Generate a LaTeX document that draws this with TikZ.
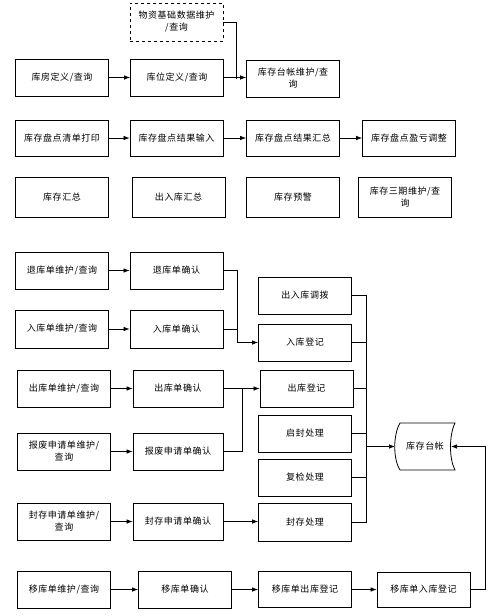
\documentclass[tikz,border=0pt]{standalone}
\usepackage{fontspec}
\newfontfamily\cjk{Noto Sans CJK SC}[LetterSpace=6]
\usetikzlibrary{arrows.meta}
\tikzset{
  box/.style={draw, line width=0.8pt, minimum width=93pt, minimum height=37pt,
    align=center, inner sep=1pt, font=\cjk\fontsize{9}{12}\selectfont},
  conn/.style={line width=0.7pt},
  arr/.style={conn, -{Latex[length=6pt,width=4.5pt]}}
}
\begin{document}
\begin{tikzpicture}[x=1pt,y=-1pt]
\useasboundingbox (0,0) rectangle (494,616);
% top section
\node[box, dashed, minimum height=38pt] (ds) at (176.5,22) {物资基础数据维护\\/查询};
\node[box] (a1) at (62,77.5) {库房定义/查询};
\node[box] (a2) at (177,77.5) {库位定义/查询};
\node[box] (a3) at (293,78.5) {库存台帐维护/查\\询};
\node[box, minimum height=36pt] (b1) at (62,138) {库存盘点清单打印};
\node[box, minimum height=36pt] (b2) at (176.5,138) {库存盘点结果输入};
\node[box, minimum height=36pt] (b3) at (293,138) {库存盘点结果汇总};
\node[box, minimum height=36pt] (b4) at (409,138) {库存盘点盈亏调整};
\node[box, minimum height=40pt] (c1) at (62,197.5) {库存汇总};
\node[box, minimum height=40pt] (c2) at (178.5,197.5) {出入库汇总};
\node[box, minimum height=40pt] (c3) at (293,197.5) {库存预警};
\node[box, minimum height=40pt] (c4) at (405,197.5) {库存三期维护/查\\询};
\coordinate (m1) at (236,78.5);
\draw[arr] (a1) -- (a2);
\draw[arr] (a2.east) -- (a2.east -| a3.west);
\draw[conn] (ds.east) -| (m1);
\draw[arr] (b1) -- (b2);
\draw[arr] (b2) -- (b3);
\draw[arr] (b3) -- (b4);
% lower section
\node[box] (d1) at (62,270.5) {退库单维护/查询};
\node[box] (d2) at (176.5,270.5) {退库单确认};
\node[box, minimum height=38pt] (e1) at (62,329) {入库单维护/查询};
\node[box, minimum height=38pt] (e2) at (176.5,329) {入库单确认};
\node[box] (f) at (305,295.5) {出入库调拨};
\node[box] (g) at (305,342.5) {入库登记};
\node[box] (h1) at (64,388.5) {出库单维护/查询};
\node[box, minimum width=90pt] (h2) at (178,388.5) {出库单确认};
\node[box] (i1) at (64,451.5) {报废申请单维护/\\查询};
\node[box, minimum width=90pt] (i2) at (178,451.5) {报废申请单确认};
\node[box] (j) at (306.5,388.5) {出库登记};
\node[box] (k) at (305,433.5) {启封处理};
\node[box] (l) at (305,477.5) {复检处理};
\node[box, minimum height=38pt] (m) at (305,522) {封存处理};
\node[box] (n1) at (64,521.5) {封存申请单维护/\\查询};
\node[box, minimum width=90pt] (n2) at (178,521.5) {封存申请单确认};
\node[box] (o1) at (64,589.5) {移库单维护/查询};
\node[box] (o2) at (185,589.5) {移库单确认};
\node[box, minimum height=36pt] (o3) at (305,589.5) {移库单出库登记};
\node[box, minimum height=35pt] (o4) at (423.5,589.5) {移库单入库登记};
% stored data shape
\draw[line width=0.8pt] (400,423) -- (455,423)
  .. controls (449,435) and (449,459) .. (455,470) -- (400,470)
  .. controls (393,459) and (393,435) .. (400,423) -- cycle;
\node[font=\cjk\fontsize{9}{12}\selectfont, inner sep=0pt, minimum width=50pt, minimum height=40pt] (st) at (425,446.5) {库存台帐};
\coordinate (stw) at (395,446.5);
\coordinate (ste) at (451,446.5);
% connectors
\coordinate (bus1) at (237,342.5);
\coordinate (bus2) at (242,388.5);
\coordinate (rb) at (366,446.5);
\coordinate (rt) at (366,295.5);
\coordinate (rbot) at (366,522);
\coordinate (far) at (485,446.5);
\draw[arr] (d1) -- (d2);
\draw[arr] (e1) -- (e2);
\draw[conn] (d2.east) -| (bus1);
\draw[conn] (e2.east) -- (e2.east -| bus1);
\draw[arr] (bus1) -- (g.west);
\draw[arr] (h1) -- (h2);
\draw[arr] (i1) -- (i2);
\draw[conn] (h2.east) -- (bus2);
\draw[conn] (i2.east) -| (bus2);
\draw[arr] (bus2) -- (j.west);
\draw[conn] (f.east) -- (rt) -- (rbot) -- (m.east);
\draw[conn] (g.east) -- (g.east -| rt);
\draw[conn] (j.east) -- (j.east -| rt);
\draw[conn] (k.east) -- (k.east -| rt);
\draw[conn] (l.east) -- (l.east -| rt);
\draw[arr] (rb) -- (stw);
\draw[arr] (n1) -- (n2);
\draw[arr] (n2.east) -- (n2.east -| m.west);
\draw[arr] (o1) -- (o2);
\draw[arr] (o2) -- (o3);
\draw[arr] (o3) -- (o4);
\draw[arr] (o4.east) -| (far) -- (ste);
\end{tikzpicture}
\end{document}
